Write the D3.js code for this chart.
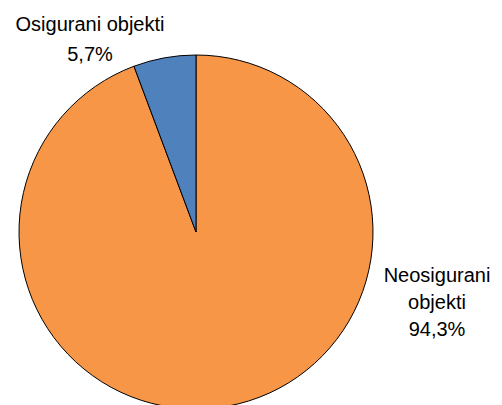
<!DOCTYPE html>
<html>
<head>
<meta charset="utf-8">
<script src="https://cdn.jsdelivr.net/npm/d3@7"></script>
<style>
  body { margin: 0; background: #fff; }
  svg text { font-family: "Liberation Sans", Arial, sans-serif; fill: #000; }
</style>
</head>
<body>
<svg id="chart"></svg>
<script>
// data
const categories = ["Neosigurani objekti", "Osigurani objekti"];
const shares = [94.3, 5.7];
const colors = ["#F79646", "#4F81BD"];
const labelLines = [["Neosigurani", "objekti", "94,3%"], ["Osigurani objekti", "5,7%"]];

const width = 502;
const height = 405;

const svg = d3.select("#chart").attr("width", width).attr("height", height);

const cx = 196, cy = 232, radius = 177;

const pie = d3.pie().sort(null).value((d) => d.value);
const arc = d3.arc().innerRadius(0).outerRadius(radius);

const slices = pie(categories.map((c, i) => ({ name: c, value: shares[i], color: colors[i] })));

const g = svg.append("g").attr("transform", "translate(" + cx + "," + cy + ")");

g.selectAll("path")
  .data(slices)
  .enter()
  .append("path")
  .attr("d", arc)
  .style("fill", (d) => d.data.color)
  .style("stroke", "#000")
  .style("stroke-width", 1);

// label positions (outside the pie)
const labelPos = [
  { x: 437, y: 282, step: 27 },
  { x: 90, y: 31, step: 30 },
];

slices.forEach((d, i) => {
  const t = svg
    .append("text")
    .attr("x", labelPos[i].x)
    .attr("y", labelPos[i].y)
    .attr("text-anchor", "middle")
    .style("font-size", "20px");
  labelLines[i].forEach((line, j) => {
    t.append("tspan")
      .attr("x", labelPos[i].x)
      .attr("dy", j === 0 ? 0 : labelPos[i].step)
      .text(line);
  });
});
</script>
</body>
</html>
